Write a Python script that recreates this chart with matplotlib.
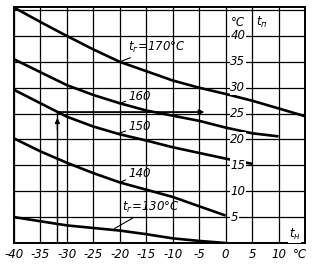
import matplotlib
matplotlib.use("Agg")
import matplotlib.pyplot as plt
from matplotlib import font_manager

# ================= DATA ================= #
T_OUT = [-40, -35, -30, -25, -20, -15, -10, -5, 0, 5, 10, 15]

CURVE_170 = [45.5, 42.7, 40.0, 37.4, 35.0, 33.2, 31.4, 30.0, 28.8, 27.5, 26.0, 24.5]
CURVE_160 = [35.5, 33.0, 30.5, 28.6, 27.0, 25.6, 24.6, 23.6, 22.3, 21.2, 20.6]
CURVE_150 = [29.6, 27.0, 24.4, 22.5, 21.0, 19.8, 18.5, 17.4, 16.3, 15.3]
CURVE_140 = [20.2, 17.7, 15.5, 13.5, 11.7, 10.3, 8.9, 7.1, 5.3]
CURVE_130 = [5.0, 4.2, 3.4, 2.9, 2.4, 1.7, 0.9, 0.4, 0.0]

X_TICKS = [-40, -35, -30, -25, -20, -15, -10, -5, 0, 5, 10]
Y_TICKS = [5, 10, 15, 20, 25, 30, 35, 40]

# worked example (arrows)
EX_T_OUT = -31.8
EX_T_IN = 25.3
EX_T_END = -4.0

# ================= FONT ================= #
names = {f.name for f in font_manager.fontManager.ttflist}
FONT = "Liberation Sans Narrow" if "Liberation Sans Narrow" in names else "DejaVu Sans"
plt.rcParams["mathtext.fontset"] = "custom"
plt.rcParams["mathtext.rm"] = FONT + ":italic"
plt.rcParams["mathtext.it"] = FONT + ":italic"
FS = 8.5
TXT = dict(family=[FONT, "DejaVu Sans"], style="italic", fontsize=FS, color="black")
BOX = dict(facecolor="white", edgecolor="none", pad=0.6)

# ================= FIGURE ================= #
fig = plt.figure(figsize=(3.18, 2.64), dpi=100, facecolor="white")
ax = fig.add_axes([14 / 318, 21 / 264, 291 / 318, 236 / 264])
ax.set_xlim(-40, 15)
ax.set_ylim(0, 45.6)

ax.set_xticks(range(-40, 16, 5))
ax.set_yticks(range(0, 46, 5))
ax.grid(True, color="black", lw=0.9)
ax.tick_params(length=0, labelleft=False, labelbottom=False)
for s in ax.spines.values():
    s.set_linewidth(1.4)

# curves
for vals in [CURVE_170, CURVE_160, CURVE_150, CURVE_140, CURVE_130]:
    ax.plot(T_OUT[:len(vals)], vals, color="black", lw=1.9, solid_capstyle="butt", zorder=3)

# worked example arrows
ax.plot([EX_T_OUT, EX_T_OUT], [0, EX_T_IN], color="black", lw=1.0, zorder=3)
ax.annotate("", xy=(EX_T_OUT, EX_T_IN - 0.6), xytext=(EX_T_OUT, EX_T_IN - 4),
            arrowprops=dict(arrowstyle="-|>", color="black", lw=1.0, mutation_scale=7))
ax.annotate("", xy=(EX_T_END, EX_T_IN), xytext=(EX_T_OUT, EX_T_IN),
            arrowprops=dict(arrowstyle="-|>", color="black", lw=1.3, mutation_scale=7,
                            shrinkA=0, shrinkB=0), zorder=3)

# curve labels with leaders
def label(text, xy, xytext):
    ax.annotate(text, xy=xy, xytext=xytext, ha="left", va="center",
                arrowprops=dict(arrowstyle="-", color="black", lw=0.8, shrinkA=0, shrinkB=0),
                zorder=4, **TXT)

label("$t_г$=170°C", (-20, 35.0), (-18.5, 37.8))
label("160", (-20.2, 26.9), (-18.4, 28.4))
label("150", (-20.5, 21.1), (-18.4, 22.5))
label("140", (-20, 11.7), (-18.4, 13.4))
label("$t_г$=130°C", (-21, 2.8), (-19.6, 6.8))

# y labels inside, right of the zero line
for v in Y_TICKS:
    ax.text(0.9, v, str(v), ha="left", va="center", zorder=5, bbox=BOX, **TXT)
ax.text(0.9, 42.6, "°C", ha="left", va="center", zorder=5, bbox=BOX, **TXT)
ax.text(5.8, 42.6, "$t_п$", ha="left", va="center", zorder=5, bbox=BOX, **TXT)
ax.text(13.0, 1.7, "$t_н$", ha="center", va="center", zorder=5, bbox=BOX, **TXT)

# x labels below
for v in X_TICKS:
    ax.text(v, -2.2, str(v), ha="center", va="center", clip_on=False, **TXT)
ax.text(14.0, -2.2, "°C", ha="center", va="center", clip_on=False, **TXT)

fig.savefig("out.png", dpi=100)
